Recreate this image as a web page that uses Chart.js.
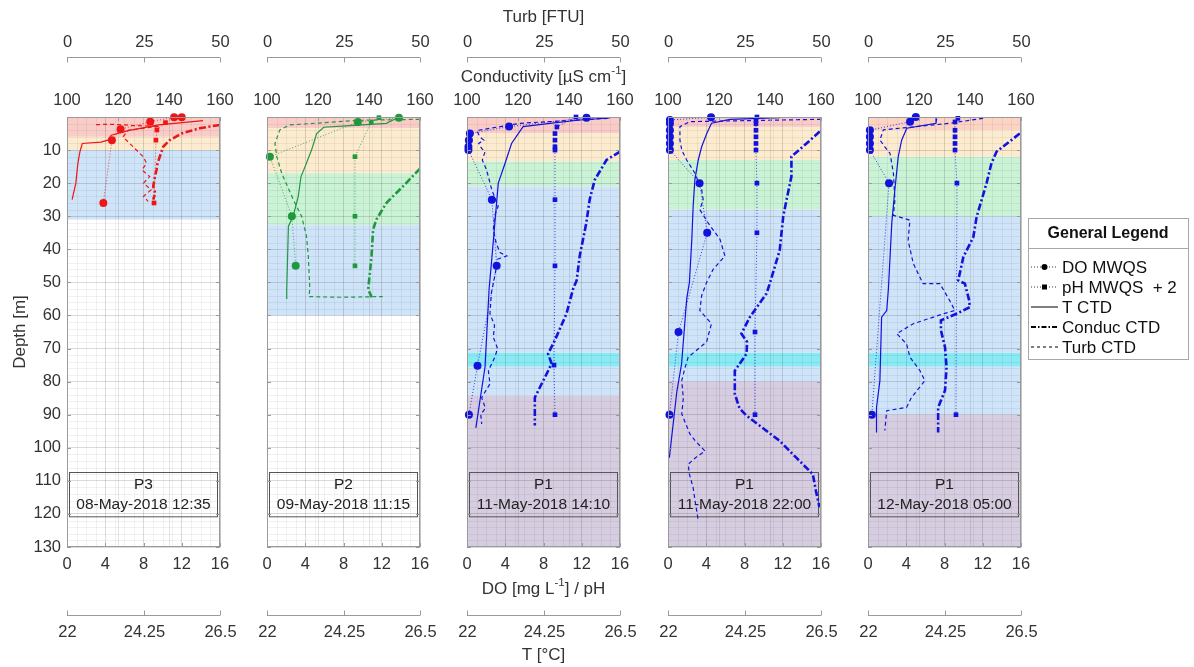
<!DOCTYPE html>
<html>
<head>
<meta charset="utf-8">
<script src="https://cdn.jsdelivr.net/npm/chart.js@4.4.1/dist/chart.umd.min.js"></script>
<style>
  html, body { margin: 0; padding: 0; background: #fff; }
  #wrap { position: relative; width: 1194px; height: 667px; overflow: hidden; }
  #wrap canvas { position: absolute; top: 0; }
</style>
</head>
<body>
<div id="wrap"></div>
<script>
// profile pairs are [depth m, value]
// P3 08-May
const p3Do = [[0.1, 12.0], [0.1, 11.2], [1.4, 8.7], [3.7, 5.6], [7, 4.7], [26, 3.8]];
const p3Ph = [[0.1, 11.3], [1.7, 10.3], [3.9, 9.4], [7, 9.3], [26, 9.1]];
const p3T = [[1.1, 26.0], [2.4, 24.7], [4.1, 23.8], [5.5, 23.3], [7, 23.2], [7.6, 23.0], [8, 22.45], [10.5, 22.38], [14, 22.32], [20, 22.26], [25, 22.15]];
const p3Cond = [[2.4, 159.9], [3.4, 152], [5, 144.9], [7, 140.3], [9, 137.7], [12, 136.4], [14, 135.5], [16, 135.1], [18, 134.5], [21, 133.8], [23, 134.6], [25, 133.8]];
const p3Turb = [[2.3, 9.5], [2.2, 15], [2.6, 22], [2.8, 30], [4, 20], [6, 18.3], [9, 21.6], [12, 24.9], [14, 26], [16, 24.5], [18, 27], [20, 25], [22, 27.5], [24, 25], [25.5, 26.5]];
const p3Layers = [[0, 6, 'A'], [6, 10, 'B'], [10, 31, 'D']];

// P2 09-May
const p2Do = [[0.2, 13.8], [1.5, 9.5], [12, 0.3], [30, 2.6], [45, 3.0]];
const p2Ph = [[0.2, 11.7], [1.5, 10.9], [12, 9.2], [30, 9.2], [45, 9.2]];
const p2T = [[0.4, 25.81], [1.9, 25.51], [2.6, 24.44], [3.1, 23.67], [5, 23.46], [10, 23.31], [15, 23.12], [18, 23.0], [24, 22.92], [30, 22.77], [33, 22.63], [52, 22.58], [55, 22.58]];
const p2Cond = [[15.6, 160], [21, 153.3], [26, 146.8], [31, 142.9], [34, 141.6], [42, 141], [52, 139.7], [54.5, 141]];
const p2Turb = [[0.7, 49.9], [1.0, 30], [2.4, 7.5], [3.9, 4.2], [8, 2.6], [12, 3.2], [17, 4.8], [25, 8.6], [30, 11.3], [36, 12.9], [42, 13.5], [52, 14.0], [54.3, 13.7], [54.5, 23.8], [54.3, 37.8]];
const p2Layers = [[0, 3.4, 'A'], [3.4, 17, 'B'], [17, 32.7, 'C'], [32.7, 60, 'D']];

// P1 11-May 14:10
const p1aDo = [[0.2, 12.5], [2.9, 4.4], [5, 0.3], [7, 0.2], [9, 0.15], [10, 0.15], [25, 2.6], [45, 3.1], [75.2, 1.1], [90, 0.2]];
const p1aPh = [[0, 11.4], [3, 9.4], [5, 9.2], [7, 9.2], [9, 9.2], [10, 9.2], [25, 9.2], [45, 9.2], [75, 9.1], [90, 9.2]];
const p1aT = [[0.3, 26.2], [0.9, 25.32], [1.9, 24.44], [2.9, 23.65], [8, 23.31], [14, 23.12], [20, 22.92], [32, 22.82], [44, 22.72], [52, 22.65], [75.6, 22.53], [94, 22.26]];
const p1aCond = [[10.5, 160], [13, 154.7], [19, 150.1], [25, 148.1], [32, 146.8], [42, 144.2], [49.4, 143], [52, 141.6], [59.5, 139], [67.6, 134.4], [71.6, 131.8], [74.6, 133.2], [79.7, 129.9], [84.8, 126.6], [93.3, 126.6]];
const p1aTurb = [[0.4, 46], [1.9, 17.3], [4.1, 3.2], [6, 4.2], [7, 5.5], [8, 3.8], [9.5, 4.8], [10.5, 5.9], [13, 5], [16, 6.4], [22, 8.1], [27, 10.2], [30, 9], [34, 8.6], [38, 9.5], [41, 10.8], [42, 13], [43, 10], [48, 9.1], [53, 8], [59.5, 7.5], [63, 9], [66.6, 8.6], [70, 10], [72.6, 9.1], [76.7, 7.0], [80.7, 7.5], [84.8, 4.8], [88, 6], [90, 4.5], [92.8, 4.8]];
const p1aLayers = [[0, 5, 'A'], [5, 13.4, 'B'], [13.4, 21, 'C'], [21, 71.3, 'D'], [71.3, 75.5, 'E'], [75.5, 84.3, 'D'], [84.3, 130, 'F']];

// P1 11-May 22:00
const p1bDo = [[0.1, 4.5], [0.9, 0.2], [2, 0.2], [4, 0.2], [6, 0.2], [8, 0.2], [10, 0.2], [20, 3.3], [35, 4.1], [65, 1.1], [90, 0.15]];
const p1bPh = [[0, 9.3], [1, 9.2], [2, 9.2], [4, 9.2], [6, 9.2], [8, 9.2], [10, 9.2], [20, 9.3], [35, 9.3], [65, 9.1], [90, 9.1]];
const p1bT = [[0.2, 25.3], [0.7, 23.82], [1.9, 23.28], [5, 23.14], [9, 22.99], [13, 22.89], [19, 22.79], [27, 22.74], [37, 22.7], [50, 22.63], [55, 22.55], [74.6, 22.4], [83, 22.26], [103, 22.04]];
const p1bCond = [[4.4, 159.5], [8, 154.3], [12, 148.4], [18, 148.4], [25, 146.5], [30, 145.2], [40.3, 143.8], [50.4, 139.9], [53.4, 138.6], [60.5, 132.1], [65.5, 128.8], [68, 131], [71.6, 130.8], [76.7, 126.2], [83.7, 126.2], [88, 128], [90.3, 130.8], [97.9, 143.8], [103, 150.3], [108, 156.8], [113, 158], [118, 159.4]];
const p1bTurb = [[0.7, 50], [1.4, 7.2], [2.9, 3.9], [7, 3.9], [10, 4.5], [13, 6.1], [17, 8.8], [22, 11], [25, 11.5], [28, 10.4], [32, 13.1], [37, 17], [42, 18.6], [46, 14.8], [50, 12.6], [54, 11], [58.5, 10.4], [62.5, 14.2], [68, 12.6], [72.6, 6.6], [76, 5.5], [79.7, 4.5], [85, 5], [89.8, 4.5], [95.9, 7.2], [98, 9], [101, 12.1], [103, 9], [105, 6.6], [108, 7], [112, 8.2], [117, 9], [122, 9.9]];
const p1bLayers = [[0, 3, 'A'], [3, 13, 'B'], [13, 28, 'C'], [28, 71.3, 'D'], [71.3, 75.5, 'E'], [75.5, 80, 'D'], [80, 130, 'F']];

// P1 12-May 05:00
const p1cDo = [[0, 5.0], [1.4, 4.4], [4, 0.2], [6, 0.2], [8, 0.2], [10, 0.2], [20, 2.2], [90, 0.4]];
const p1cPh = [[0.4, 9.4], [1.5, 9.1], [4, 9.1], [6, 9.1], [8, 9.1], [10, 9.1], [20, 9.3], [90, 9.2]];
const p1cT = [[0.4, 24.02], [1.9, 24.0], [3.4, 23.14], [7, 22.99], [12, 22.89], [22, 22.79], [32, 22.7], [52, 22.6], [58.5, 22.55], [60.5, 22.4], [79.7, 22.35], [87.8, 22.25], [95.4, 22.25]];
const p1cCond = [[5, 159.5], [10.5, 150.4], [14, 148.4], [20, 146.5], [30.2, 142.6], [36.3, 141.3], [42.3, 137.4], [49.4, 135.4], [50.4, 138], [55.5, 139.7], [57.5, 139.9], [59.5, 134.7], [61.5, 128.6], [64.5, 128.6], [69.6, 130.2], [75.6, 130.8], [82.7, 130.2], [87.8, 127.5], [95.4, 127.5]];
const p1cTurb = [[0.4, 37.6], [1.9, 26.7], [3.9, 5.0], [7, 3.9], [9, 5.5], [11, 7.2], [17, 8.3], [25, 8.8], [29.7, 8.3], [31.2, 13.7], [37.3, 13.1], [44.3, 14.8], [50.4, 18], [50.4, 23.5], [55.5, 26.7], [58.5, 28.4], [59.5, 24.6], [62.5, 14.8], [65.5, 9.4], [68.6, 12.6], [72.6, 13.7], [76.7, 17], [79.7, 18.6], [84.8, 14.2], [87.8, 12.6], [88.8, 6.1], [94.8, 5.5]];
const p1cLayers = [[0, 4, 'A2'], [4, 12, 'B'], [12, 30, 'C'], [30, 71.3, 'D'], [71.3, 75.5, 'E'], [75.5, 90, 'D'], [90, 130, 'F']];

const stations = ['P3', 'P2', 'P1', 'P1', 'P1'];
const castTimes = ['08-May-2018 12:35', '09-May-2018 11:15', '11-May-2018 14:10', '11-May-2018 22:00', '12-May-2018 05:00'];

const doTicks = [0, 4, 8, 12, 16];
const condTicks = [100, 120, 140, 160];
const turbTicks = [0, 25, 50];
const tempTicks = [22, 24.25, 26.5];
const depthTicks = [0, 10, 20, 30, 40, 50, 60, 70, 80, 90, 100, 110, 120, 130];

const legendLabels = ['DO MWQS', 'pH MWQS  + 2', 'T CTD', 'Conduc CTD', 'Turb CTD'];

const FONT = "'Liberation Sans', Arial, Helvetica, sans-serif";
const TEXT = '#333';
const AXIS = '#9a9a9a';
const zoneFill = {
  A: 'rgb(250,204,200)', A2: 'rgb(252,212,196)', B: 'rgb(252,235,206)', C: 'rgb(202,243,214)',
  D: 'rgb(207,228,249)', E: 'rgb(138,234,244)', F: 'rgb(215,205,225)'
};

const RED = 'rgb(236,22,22)', GREEN = 'rgb(32,152,62)', BLUE = 'rgb(18,18,222)';

const panels = [
  { color: RED, dO: p3Do, ph: p3Ph, t: p3T, cond: p3Cond, turb: p3Turb, layers: p3Layers, plotLeft: 67 },
  { color: GREEN, dO: p2Do, ph: p2Ph, t: p2T, cond: p2Cond, turb: p2Turb, layers: p2Layers, plotLeft: 267 },
  { color: BLUE, dO: p1aDo, ph: p1aPh, t: p1aT, cond: p1aCond, turb: p1aTurb, layers: p1aLayers, plotLeft: 467 },
  { color: BLUE, dO: p1bDo, ph: p1bPh, t: p1bT, cond: p1bCond, turb: p1bTurb, layers: p1bLayers, plotLeft: 668 },
  { color: BLUE, dO: p1cDo, ph: p1cPh, t: p1cT, cond: p1cCond, turb: p1cTurb, layers: p1cLayers, plotLeft: 868 }
];

const PLOT_W = 153;
const wrap = document.getElementById('wrap');

Chart.defaults.font.family = FONT;
Chart.defaults.color = TEXT;

function toPoints(pairs) {
  return pairs.map(p => ({ x: p[1], y: p[0] }));
}

function fixedTicks(list) {
  return scale => { scale.ticks = list.map(v => ({ value: v })); };
}

// text with a "-1" style superscript, centred on cx
function supText(ctx, parts, cx, cy, size) {
  const small = size * 0.68;
  let total = 0;
  parts.forEach(([txt, sup]) => {
    ctx.font = (sup ? small : size) + 'px ' + FONT;
    total += ctx.measureText(txt).width;
  });
  let x = cx - total / 2;
  ctx.textAlign = 'left';
  ctx.textBaseline = 'middle';
  parts.forEach(([txt, sup]) => {
    ctx.font = (sup ? small : size) + 'px ' + FONT;
    ctx.fillText(txt, x, sup ? cy - size * 0.38 : cy);
    x += ctx.measureText(txt).width;
  });
}

function hLine(ctx, x1, x2, y) {
  ctx.beginPath(); ctx.moveTo(x1, y); ctx.lineTo(x2, y); ctx.stroke();
}
function vLine(ctx, x, y1, y2) {
  ctx.beginPath(); ctx.moveTo(x, y1); ctx.lineTo(x, y2); ctx.stroke();
}

function legendSample(ctx, kind, x1, x2, y) {
  ctx.save();
  ctx.strokeStyle = '#000';
  ctx.fillStyle = '#000';
  if (kind === 0 || kind === 1) {
    ctx.lineWidth = 0.8; ctx.setLineDash([1, 2]);
  } else if (kind === 2) {
    ctx.lineWidth = 1; ctx.setLineDash([]);
  } else if (kind === 3) {
    ctx.lineWidth = 2; ctx.setLineDash([5, 2, 1.5, 2]);
  } else {
    ctx.lineWidth = 1; ctx.setLineDash([3, 3]);
  }
  hLine(ctx, x1, x2, y);
  ctx.setLineDash([]);
  const mx = (x1 + x2) / 2;
  if (kind === 0) { ctx.beginPath(); ctx.arc(mx, y, 3, 0, Math.PI * 2); ctx.fill(); }
  if (kind === 1) { ctx.fillRect(mx - 2.5, y - 2.5, 5, 5); }
  ctx.restore();
}

function makeDecor(idx, canvasLeft) {
  const p = panels[idx];
  return {
    id: 'decor' + idx,
    beforeDraw(chart) {
      const { ctx, chartArea: a, scales } = chart;
      const y = scales.y, x = scales.x;
      ctx.save();
      // water layers
      p.layers.forEach(([d0, d1, z]) => {
        const y0 = y.getPixelForValue(d0), y1 = y.getPixelForValue(d1);
        ctx.fillStyle = zoneFill[z];
        ctx.fillRect(a.left, y0, a.right - a.left, y1 - y0);
      });
      // minor grid
      ctx.strokeStyle = 'rgba(0,0,0,0.055)';
      ctx.lineWidth = 1;
      for (let v = 1; v < 16; v++) {
        if (v % 4 === 0) continue;
        const px = Math.round(x.getPixelForValue(v)) + 0.5;
        vLine(ctx, px, a.top, a.bottom);
      }
      for (let d = 2; d < 130; d += 2) {
        if (d % 10 === 0) continue;
        const py = Math.round(y.getPixelForValue(d)) + 0.5;
        hLine(ctx, a.left, a.right, py);
      }
      ctx.restore();
    },
    beforeDatasetsDraw(chart) {
      const { ctx, chartArea: a, scales } = chart;
      const y = scales.y;
      const top = y.getPixelForValue(107.2), bottom = y.getPixelForValue(120.6);
      ctx.save();
      ctx.strokeStyle = '#555';
      ctx.lineWidth = 1;
      ctx.strokeRect(a.left + 2.5, Math.round(top) + 0.5, a.right - a.left - 5, bottom - top);
      ctx.fillStyle = '#222';
      ctx.font = '15.5px ' + FONT;
      ctx.textAlign = 'center';
      ctx.textBaseline = 'middle';
      const cx = (a.left + a.right) / 2;
      ctx.fillText(stations[idx], cx, top + (bottom - top) * 0.3);
      ctx.fillText(castTimes[idx], cx, top + (bottom - top) * 0.74);
      ctx.restore();
    },
    afterDraw(chart) {
      const { ctx, chartArea: a, scales } = chart;
      ctx.save();
      ctx.strokeStyle = AXIS;
      ctx.lineWidth = 1;
      // box and inward ticks
      ctx.strokeRect(a.left + 0.5, a.top + 0.5, a.right - a.left - 1, a.bottom - a.top - 1);
      doTicks.forEach(v => {
        const px = Math.round(scales.x.getPixelForValue(v)) + 0.5;
        vLine(ctx, px, a.bottom, a.bottom - 4);
      });
      condTicks.forEach(v => {
        const px = Math.round(scales.xC.getPixelForValue(v)) + 0.5;
        vLine(ctx, px, a.top, a.top + 4);
      });
      depthTicks.forEach(v => {
        const py = Math.round(scales.y.getPixelForValue(v)) + 0.5;
        hLine(ctx, a.left, a.left + 4, py);
        hLine(ctx, a.right - 4, a.right, py);
      });
      // detached turbidity axis above
      const turbY = 57.5;
      hLine(ctx, a.left, a.right, turbY);
      ctx.fillStyle = TEXT;
      ctx.font = '16.5px ' + FONT;
      ctx.textAlign = 'center';
      ctx.textBaseline = 'middle';
      turbTicks.forEach(v => {
        const px = Math.round(scales.xTurb.getPixelForValue(v)) + 0.5;
        vLine(ctx, px, turbY, turbY + 5);
        ctx.fillText(String(v), px, 42);
      });
      // detached temperature axis below
      const tY = 615.5;
      hLine(ctx, a.left, a.right, tY);
      tempTicks.forEach(v => {
        const px = Math.round(scales.xT.getPixelForValue(v)) + 0.5;
        vLine(ctx, px, tY, tY - 5);
        ctx.fillText(String(v), px, 632);
      });
      if (idx === 0) {
        ctx.save();
        ctx.translate(20, (a.top + a.bottom) / 2);
        ctx.rotate(-Math.PI / 2);
        ctx.font = '17px ' + FONT;
        ctx.fillText('Depth [m]', 0, 0);
        ctx.restore();
      }
      if (idx === 2) {
        const cx = (a.left + a.right) / 2;
        ctx.font = '17px ' + FONT;
        ctx.fillText('Turb [FTU]', cx, 17);
        supText(ctx, [['Conductivity [µS cm', false], ['-1', true], [']', false]], cx, 77, 17);
        supText(ctx, [['DO [mg L', false], ['-1', true], ['] / pH', false]], cx, 589, 17);
        ctx.textAlign = 'center';
        ctx.font = '17px ' + FONT;
        ctx.fillText('T [°C]', cx, 655);
      }
      if (idx === 4) {
        const lx = 1028 - canvasLeft, ly = 218, lw = 160, lh = 141;
        ctx.fillStyle = '#fff';
        ctx.fillRect(lx, ly, lw, lh);
        ctx.strokeStyle = '#a8a8a8';
        ctx.strokeRect(lx + 0.5, ly + 0.5, lw, lh);
        hLine(ctx, lx, lx + lw, ly + 30.5);
        ctx.fillStyle = '#111';
        ctx.font = 'bold 16px ' + FONT;
        ctx.textAlign = 'center';
        ctx.fillText('General Legend', lx + lw / 2, ly + 16);
        ctx.font = '17px ' + FONT;
        ctx.textAlign = 'left';
        legendLabels.forEach((lab, k) => {
          const ry = ly + 49 + k * 20;
          legendSample(ctx, k, lx + 3, lx + 30, ry);
          ctx.fillStyle = '#111';
          ctx.fillText(lab, lx + 34, ry + 1);
        });
      }
      ctx.restore();
    }
  };
}

panels.forEach((p, i) => {
  const first = i === 0;
  const last = i === panels.length - 1;
  const canvasLeft = first ? 0 : p.plotLeft - 40;
  const width = last ? 1194 - canvasLeft : (first ? 67 : 40) + PLOT_W + 25;
  const canvas = document.createElement('canvas');
  canvas.width = width;
  canvas.height = 667;
  canvas.style.left = canvasLeft + 'px';
  canvas.style.width = width + 'px';
  canvas.style.height = '667px';
  wrap.appendChild(canvas);

  const c = p.color;
  const tickFont = { family: FONT, size: 16.5 };

  new Chart(canvas, {
    type: 'line',
    data: {
      datasets: [
        { data: toPoints(p.turb), xAxisID: 'xTurb', yAxisID: 'y', borderColor: c, borderWidth: 1.2, borderDash: [4, 3], pointRadius: 0 },
        { data: toPoints(p.cond), xAxisID: 'xC', yAxisID: 'y', borderColor: c, borderWidth: 2.6, borderDash: [7, 2.5, 2, 2.5], pointRadius: 0 },
        { data: toPoints(p.t), xAxisID: 'xT', yAxisID: 'y', borderColor: c, borderWidth: 1.2, pointRadius: 0 },
        { data: toPoints(p.ph), xAxisID: 'x', yAxisID: 'y', borderColor: c, borderWidth: 0.8, borderDash: [1, 2],
          pointStyle: 'rect', pointRadius: 3.3, pointBackgroundColor: c, pointBorderColor: c, pointBorderWidth: 0, clip: false },
        { data: toPoints(p.dO), xAxisID: 'x', yAxisID: 'y', borderColor: c, borderWidth: 0.8, borderDash: [1, 2],
          pointStyle: 'circle', pointRadius: 4, pointBackgroundColor: c, pointBorderColor: c, pointBorderWidth: 0, clip: false }
      ]
    },
    options: {
      responsive: false,
      animation: false,
      devicePixelRatio: 1,
      events: [],
      layout: {
        padding: { left: first ? 27 : 40, right: width - (first ? 67 : 40) - PLOT_W, top: 87, bottom: 90 }
      },
      plugins: { legend: { display: false }, tooltip: { enabled: false } },
      elements: { line: { tension: 0 } },
      scales: {
        x: {
          type: 'linear', position: 'bottom', min: 0, max: 16,
          afterBuildTicks: fixedTicks(doTicks),
          afterFit: s => { s.height = 30; },
          grid: { color: 'rgba(0,0,0,0.14)', drawTicks: false },
          border: { display: false },
          ticks: { padding: 8, color: TEXT, font: tickFont, maxRotation: 0, autoSkip: false }
        },
        xC: {
          type: 'linear', position: 'top', min: 100, max: 160,
          afterBuildTicks: fixedTicks(condTicks),
          afterFit: s => { s.height = 30; },
          grid: { color: 'rgba(0,0,0,0.1)', drawTicks: false },
          border: { display: false },
          ticks: { padding: 7, color: TEXT, font: tickFont, maxRotation: 0, autoSkip: false }
        },
        xT: { type: 'linear', display: false, min: 22, max: 26.5 },
        xTurb: { type: 'linear', display: false, min: 0, max: 50 },
        y: {
          type: 'linear', position: 'left', reverse: true, min: 0, max: 130,
          afterBuildTicks: fixedTicks(depthTicks),
          afterFit: s => { s.width = first ? 40 : 0; },
          grid: { color: 'rgba(0,0,0,0.14)', drawTicks: false },
          border: { display: false },
          ticks: { display: first, padding: 6, color: TEXT, font: tickFont, callback: v => (v === 0 ? '' : v) }
        }
      }
    },
    plugins: [makeDecor(i, canvasLeft)]
  });
});
</script>
</body>
</html>
